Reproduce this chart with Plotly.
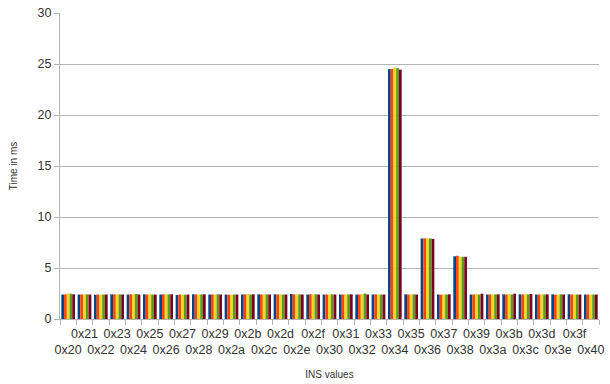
import plotly.graph_objects as go

categories = ["0x%02x" % v for v in range(0x20, 0x41)]

run1 = [2.40, 2.40, 2.38, 2.42, 2.40, 2.42, 2.40, 2.35, 2.42, 2.40, 2.40, 2.40, 2.42, 2.42, 2.45, 2.40,
        2.40, 2.40, 2.40, 2.40, 24.50, 2.42, 7.90, 2.40, 6.15, 2.40, 2.40, 2.42, 2.42, 2.40, 2.42, 2.42, 2.40]
run2 = [2.42, 2.40, 2.40, 2.40, 2.42, 2.40, 2.42, 2.40, 2.40, 2.40, 2.38, 2.42, 2.40, 2.40, 2.42, 2.42,
        2.40, 2.40, 2.40, 2.42, 24.50, 2.40, 7.90, 2.38, 6.20, 2.40, 2.40, 2.40, 2.40, 2.40, 2.38, 2.40, 2.40]
run3 = [2.50, 2.42, 2.40, 2.40, 2.40, 2.42, 2.40, 2.38, 2.42, 2.40, 2.38, 2.45, 2.40, 2.42, 2.40, 2.40,
        2.40, 2.42, 2.45, 2.40, 24.65, 2.40, 7.90, 2.40, 6.10, 2.45, 2.40, 2.45, 2.42, 2.42, 2.40, 2.42, 2.40]
run4 = [2.48, 2.42, 2.40, 2.42, 2.45, 2.40, 2.42, 2.38, 2.40, 2.42, 2.40, 2.40, 2.42, 2.40, 2.42, 2.42,
        2.42, 2.40, 2.50, 2.40, 24.60, 2.42, 7.90, 2.40, 6.10, 2.40, 2.42, 2.40, 2.42, 2.40, 2.42, 2.40, 2.40]
run5 = [2.42, 2.40, 2.40, 2.40, 2.40, 2.40, 2.42, 2.40, 2.42, 2.40, 2.40, 2.42, 2.40, 2.40, 2.40, 2.40,
        2.40, 2.42, 2.40, 2.40, 24.45, 2.40, 7.85, 2.42, 6.10, 2.48, 2.42, 2.48, 2.45, 2.42, 2.40, 2.40, 2.40]

series = [run1, run2, run3, run4, run5]
colors = ["#004586", "#ff420e", "#ffd320", "#579d1c", "#7e0021"]

# staggered category labels: odd codes on the upper line, even on the lower line
tick_text = [(" <br>" + c) if i % 2 == 0 else (c + "<br> ") for i, c in enumerate(categories)]

fig = go.Figure()
for vals, col in zip(series, colors):
    fig.add_trace(go.Bar(x=categories, y=vals, marker=dict(color=col, line=dict(width=0)),
                         showlegend=False))

fig.update_layout(
    width=610, height=384,
    margin=dict(l=60, r=6, t=8, b=65),
    barmode="group", bargap=0.16, bargroupgap=0,
    plot_bgcolor="white", paper_bgcolor="white",
    font=dict(family="Liberation Sans, Arial, sans-serif", size=11, color="#333333"),
)
fig.update_xaxes(
    tickmode="array", tickvals=categories, ticktext=tick_text,
    tickson="boundaries", ticks="outside", ticklen=5, tickcolor="#b3b3b3",
    showline=True, linecolor="#b3b3b3", showgrid=False,
    tickfont=dict(size=12.5), tickangle=0, ticklabelstandoff=3,
    title=dict(text="INS values", font=dict(size=10), standoff=14),
)
fig.update_yaxes(
    range=[0, 30], dtick=5, ticks="outside", ticklen=5, tickcolor="#b3b3b3",
    showline=True, linecolor="#b3b3b3", gridcolor="#b3b3b3", zeroline=False,
    tickfont=dict(size=12.5),
    title=dict(text="Time in ms", font=dict(size=10), standoff=18),
)

fig.write_html("out.html")
